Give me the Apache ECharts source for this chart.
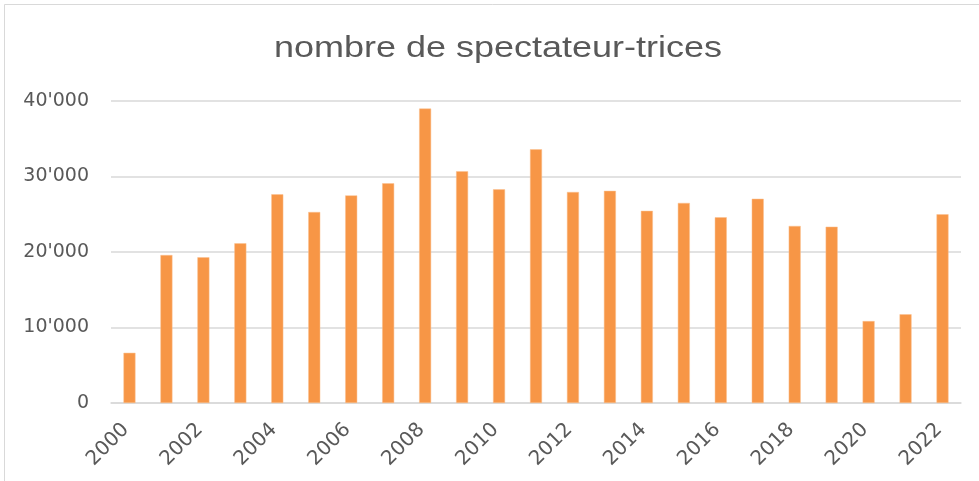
<!DOCTYPE html>
<html>
<head>
<meta charset="utf-8">
<script src="https://cdn.jsdelivr.net/npm/echarts@6/dist/echarts.min.js"></script>
<style>
  html, body { margin: 0; padding: 0; background: #fff; }
  #chart { width: 979px; height: 481px; }
</style>
</head>
<body>
<div id="chart"></div>
<script>
// années et nombre de spectateur-trices
const years = ['2000', '2001', '2002', '2003', '2004', '2005', '2006', '2007', '2008', '2009', '2010', '2011',
  '2012', '2013', '2014', '2015', '2016', '2017', '2018', '2019', '2020', '2021', '2022'];
const spectateurs = [6650, 19600, 19300, 21150, 27650, 25300, 27500, 29100, 39000, 30700, 28300, 33600,
  27950, 28100, 25450, 26500, 24600, 27050, 23450, 23350, 10850, 11750, 25000];
const yTicks = [0, 10000, 20000, 30000, 40000];
const titre = 'nombre de spectateur-trices';

const chart = echarts.init(document.getElementById('chart'));

function fmt(v) {
  // 40000 -> 40'000
  return String(v).replace(/\B(?=(\d{3})+(?!\d))/g, "'");
}

const option = {
  backgroundColor: '#fff',
  animation: false,
  graphic: [{
    type: 'rect',
    shape: { x: 4.5, y: 4.5, width: 990, height: 490 },
    style: { fill: 'none', stroke: '#d9d9d9', lineWidth: 1 },
    silent: true
  }, {
    // titre un peu étiré comme dans l'original
    type: 'text',
    x: 498,
    y: 49,
    scaleX: 1.2,
    silent: true,
    style: {
      text: titre,
      align: 'center',
      verticalAlign: 'middle',
      font: '30px "Liberation Sans"',
      fill: '#595959'
    }
  }],
  grid: { left: 111, right: 18, top: 101, bottom: 78 },
  xAxis: {
    type: 'category',
    data: years,
    axisLine: { lineStyle: { color: '#d9d9d9', width: 1.5 } },
    axisTick: { show: false },
    axisLabel: {
      interval: 1,
      rotate: 45,
      margin: 20,
      padding: [0, 5, 0, 0],
      fontFamily: 'DejaVu Sans',
      fontSize: 20,
      color: '#595959'
    }
  },
  yAxis: {
    type: 'value',
    min: yTicks[0],
    max: yTicks[yTicks.length - 1],
    interval: 10000,
    axisLine: { show: false },
    axisTick: { show: false },
    splitLine: { lineStyle: { color: '#d9d9d9', width: 1.5 } },
    axisLabel: {
      margin: 22,
      fontFamily: 'DejaVu Sans',
      fontSize: 19,
      color: '#595959',
      formatter: fmt
    }
  },
  series: [{
    name: 'spectateur-trices',
    type: 'bar',
    data: spectateurs,
    barWidth: 12,
    itemStyle: { color: '#F79646', borderColor: '#FAC090', borderWidth: 0.5 }
  }]
};

chart.setOption(option);
</script>
</body>
</html>
